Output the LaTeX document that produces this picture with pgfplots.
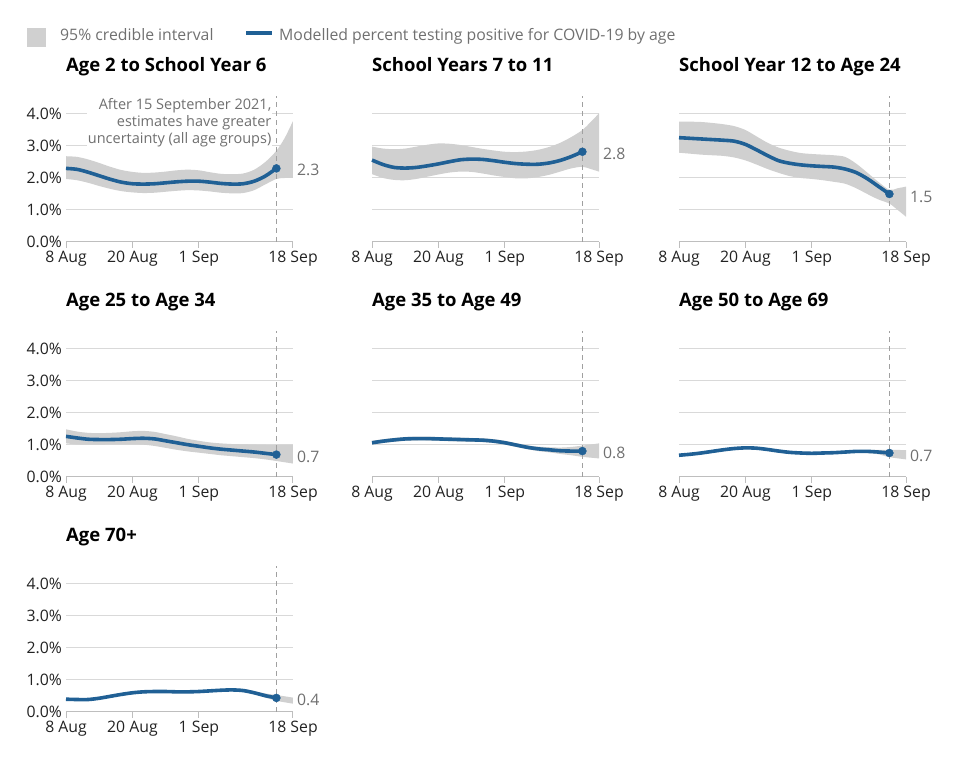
\documentclass[border=0pt]{standalone}
\usepackage{pgfplots}
\pgfplotsset{compat=1.18}
\usepackage{pgfplotstable}
\usepgfplotslibrary{fillbetween}
\usepackage{fontspec}
\setmainfont{Open Sans}
\definecolor{onsblue}{HTML}{206095}
\definecolor{bandgrey}{HTML}{D0D0D0}
\definecolor{gridgrey}{HTML}{D9D9D9}
\definecolor{axisgrey}{HTML}{BEBEBE}
\definecolor{txtgrey}{HTML}{707070}
\definecolor{dashgrey}{HTML}{A0A0A0}
\definecolor{ink}{HTML}{222222}
\newcommand{\tickfont}{\fontsize{15.8bp}{18bp}\selectfont}
\newcommand{\titlefont}{\fontsize{18.5bp}{22bp}\selectfont\bfseries}
\newcommand{\notefont}{\fontsize{14.5bp}{16.7bp}\selectfont}

% ---------- data ----------
\pgfplotstableread{
x lo hi
0 1.97 2.68
2 1.93 2.66
4 1.85 2.58
6 1.75 2.47
8 1.66 2.35
10 1.59 2.25
12 1.55 2.19
14 1.53 2.16
16 1.54 2.17
18 1.57 2.20
20 1.60 2.24
22 1.62 2.26
24 1.61 2.24
26 1.58 2.18
28 1.54 2.13
30 1.52 2.12
32 1.53 2.14
34 1.62 2.26
36 1.80 2.50
38 1.97 2.85
39.5 2.00 3.25
41 2.00 3.78
}\bandA
\pgfplotstableread{
x y
0 2.30
2 2.27
4 2.18
6 2.07
8 1.96
10 1.87
12 1.82
14 1.81
16 1.82
18 1.85
20 1.88
22 1.90
24 1.90
26 1.87
28 1.83
30 1.81
32 1.82
34 1.90
36 2.06
38 2.30
}\lineA
\pgfplotstableread{
x lo hi
0 2.12 2.98
2 2.00 2.92
4 1.94 2.90
6 1.93 2.92
8 1.97 2.98
10 2.04 3.04
12 2.11 3.08
14 2.17 3.07
16 2.20 3.03
18 2.19 2.97
20 2.14 2.91
22 2.08 2.86
24 2.03 2.82
26 1.99 2.81
28 1.99 2.83
30 2.03 2.88
32 2.10 2.97
34 2.20 3.10
36 2.30 3.28
38 2.35 3.50
39.5 2.28 3.75
41 2.20 4.02
}\bandB
\pgfplotstableread{
x y
0 2.56
2 2.42
4 2.33
6 2.31
8 2.33
10 2.38
12 2.44
14 2.51
16 2.57
18 2.59
20 2.58
22 2.54
24 2.49
26 2.45
28 2.43
30 2.43
32 2.47
34 2.55
36 2.67
38 2.82
}\lineB
\pgfplotstableread{
x lo hi
0 2.79 3.76
2 2.76 3.76
4 2.73 3.75
6 2.71 3.72
8 2.69 3.68
10 2.64 3.62
12 2.55 3.50
14 2.42 3.30
16 2.28 3.10
18 2.16 2.95
20 2.06 2.85
22 2.00 2.78
24 1.97 2.75
26 1.93 2.73
28 1.88 2.71
30 1.82 2.66
32 1.68 2.45
34 1.50 2.17
36 1.33 1.88
38 1.20 1.63
39.5 1.00 1.68
41 0.79 1.73
}\bandC
\pgfplotstableread{
x y
0 3.26
2 3.24
4 3.22
6 3.20
8 3.18
10 3.15
12 3.05
14 2.88
16 2.70
18 2.54
20 2.46
22 2.41
24 2.38
26 2.36
28 2.34
30 2.28
32 2.17
34 1.98
36 1.74
38 1.50
}\lineC
\pgfplotstableread{
x lo hi
0 1.05 1.49
2 1.02 1.42
4 1.01 1.38
6 1.01 1.37
8 1.02 1.38
10 1.02 1.40
12 1.02 1.43
14 1.01 1.44
16 0.97 1.41
18 0.91 1.34
20 0.85 1.27
22 0.80 1.19
24 0.76 1.13
26 0.72 1.08
28 0.68 1.05
30 0.65 1.03
32 0.62 1.02
34 0.59 1.01
36 0.55 1.00
38 0.50 1.00
41 0.42 1.00
}\bandD
\pgfplotstableread{
x y
0 1.27
2 1.22
4 1.18
6 1.17
8 1.17
10 1.18
12 1.20
14 1.21
16 1.19
18 1.13
20 1.07
22 1.01
24 0.96
26 0.91
28 0.87
30 0.84
32 0.81
34 0.78
36 0.74
38 0.70
}\lineD
\pgfplotstableread{
x lo hi
0 1.01 1.13
2 1.06 1.18
4 1.10 1.22
6 1.13 1.25
8 1.14 1.26
10 1.14 1.26
12 1.13 1.25
14 1.12 1.24
16 1.11 1.23
18 1.10 1.22
20 1.09 1.21
22 1.06 1.18
24 1.01 1.13
26 0.94 1.06
28 0.87 0.99
30 0.81 0.95
32 0.77 0.93
34 0.72 0.92
36 0.68 0.94
38 0.63 0.98
41 0.58 1.05
}\bandE
\pgfplotstableread{
x y
0 1.07
2 1.12
4 1.16
6 1.19
8 1.20
10 1.20
12 1.19
14 1.18
16 1.17
18 1.16
20 1.15
22 1.12
24 1.07
26 1.00
28 0.93
30 0.88
32 0.85
34 0.82
36 0.81
38 0.81
}\lineE
\pgfplotstableread{
x lo hi
0 0.64 0.72
2 0.67 0.75
4 0.71 0.79
6 0.76 0.84
8 0.81 0.89
10 0.85 0.93
12 0.87 0.95
14 0.86 0.94
16 0.82 0.90
18 0.77 0.85
20 0.73 0.81
22 0.71 0.79
24 0.70 0.78
26 0.71 0.79
28 0.72 0.80
30 0.74 0.82
32 0.76 0.84
34 0.75 0.85
36 0.71 0.85
38 0.62 0.85
41 0.55 0.84
}\bandF
\pgfplotstableread{
x y
0 0.68
2 0.71
4 0.75
6 0.80
8 0.85
10 0.89
12 0.91
14 0.90
16 0.86
18 0.81
20 0.77
22 0.75
24 0.74
26 0.75
28 0.76
30 0.78
32 0.80
34 0.80
36 0.78
38 0.75
}\lineF
\pgfplotstableread{
x lo hi
0 0.36 0.44
2 0.35 0.43
4 0.35 0.43
6 0.39 0.47
8 0.45 0.53
10 0.51 0.59
12 0.56 0.64
14 0.59 0.67
16 0.60 0.68
18 0.60 0.68
20 0.59 0.67
22 0.59 0.67
24 0.60 0.68
26 0.62 0.70
28 0.64 0.72
30 0.65 0.73
32 0.63 0.71
34 0.55 0.65
36 0.45 0.58
38 0.35 0.53
41 0.26 0.45
}\bandG
\pgfplotstableread{
x y
0 0.40
2 0.39
4 0.39
6 0.43
8 0.49
10 0.55
12 0.60
14 0.63
16 0.64
18 0.64
20 0.63
22 0.63
24 0.64
26 0.66
28 0.68
30 0.69
32 0.67
34 0.60
36 0.51
38 0.44
}\lineG

\pgfplotsset{
  panel/.style={
    scale only axis, width=227bp, height=144bp,
    anchor=south west, clip=false,
    xmin=0, xmax=41, ymin=0, ymax=4.5,
    axis line style={draw=none},
    xtick={0,12,24,41},
    xticklabels={8 Aug,20 Aug,1 Sep,18 Sep},
    xtick pos=bottom, ytick pos=left,
    tick align=outside, major tick length=6bp,
    xtick style={axisgrey, line width=1bp},
    ytick style={draw=none},
    ytick={0,1,2,3,4},
    ymajorgrids, major grid style={gridgrey, line width=1bp},
    tick label style={font=\tickfont, text=ink},
    xticklabel style={inner sep=0pt, yshift=-3bp},
    yticklabel style={inner sep=0pt, xshift=2bp},
    /pgf/number format/assume math mode=true,
  },
  ylab/.style={yticklabels={0.0\%,1.0\%,2.0\%,3.0\%,4.0\%}},
  nolab/.style={yticklabels={}},
}

\newcommand{\panelextra}{}
% #1 x, #2 y, #3 title, #4 band, #5 line, #6 end value, #7 label, #8 label y, #9 options
\newcommand{\panel}[9]{%
\begin{axis}[panel, at={(#1bp,#2bp)}, #9]
  \addplot[axisgrey, line width=1bp] coordinates {(0,0) (41,0)};
  \addplot[draw=none, name path=up, smooth] table[x=x, y=hi] {#4};
  \addplot[draw=none, name path=lo, smooth] table[x=x, y=lo] {#4};
  \addplot[bandgrey] fill between[of=up and lo];
  \addplot[dashgrey, line width=1bp, dash pattern=on 5bp off 4bp] coordinates {(38,0) (38,4.55)};
  \addplot[onsblue, line width=3.6bp, smooth] table[x=x, y=y] {#5};
  \addplot[only marks, mark=*, mark size=4bp, mark options={fill=onsblue, draw=onsblue}] coordinates {(38,#6)};
  \node[anchor=west, text=txtgrey, font=\tickfont, inner sep=0pt] at (axis cs:41,#8) [xshift=4bp] {#7};
  \node[anchor=base west, font=\titlefont, text=black, inner sep=0pt] at (axis cs:0,4.5) [yshift=26bp] {#3};
  \panelextra
\end{axis}}

\begin{document}
\begin{tikzpicture}
% legend
\fill[bandgrey] (27bp,713bp) rectangle (46bp,732bp);
\node[anchor=base west, inner sep=0pt, text=txtgrey, font=\tickfont] at (60bp,719bp) {95\% credible interval};
\draw[onsblue, line width=3.6bp] (246bp,727bp) -- (272bp,727bp);
\node[anchor=base west, inner sep=0pt, text=txtgrey, font=\tickfont] at (279bp,719bp) {Modelled percent testing positive for COVID-19 by age};

\renewcommand{\panelextra}{\node[anchor=north east, align=right, text=txtgrey, font=\notefont, fill=white, inner sep=1bp] at (axis cs:37.3,4.52) {After 15 September 2021,\\estimates have greater\\uncertainty (all age groups)};}
\panel{66}{518}{Age 2 to School Year 6}{\bandA}{\lineA}{2.30}{2.3}{2.25}{ylab}
\renewcommand{\panelextra}{}
\panel{372}{518}{School Years 7 to 11}{\bandB}{\lineB}{2.82}{2.8}{2.75}{nolab}
\panel{679}{518}{School Year 12 to Age 24}{\bandC}{\lineC}{1.50}{1.5}{1.42}{nolab}
\panel{66}{283}{Age 25 to Age 34}{\bandD}{\lineD}{0.70}{0.7}{0.64}{ylab}
\panel{372}{283}{Age 35 to Age 49}{\bandE}{\lineE}{0.81}{0.8}{0.76}{nolab}
\panel{679}{283}{Age 50 to Age 69}{\bandF}{\lineF}{0.75}{0.7}{0.67}{nolab}
\panel{66}{48}{Age 70+}{\bandG}{\lineG}{0.44}{0.4}{0.38}{ylab}
\pgfresetboundingbox
\path (0bp,0bp) rectangle (960bp,760bp);
\end{tikzpicture}
\end{document}
